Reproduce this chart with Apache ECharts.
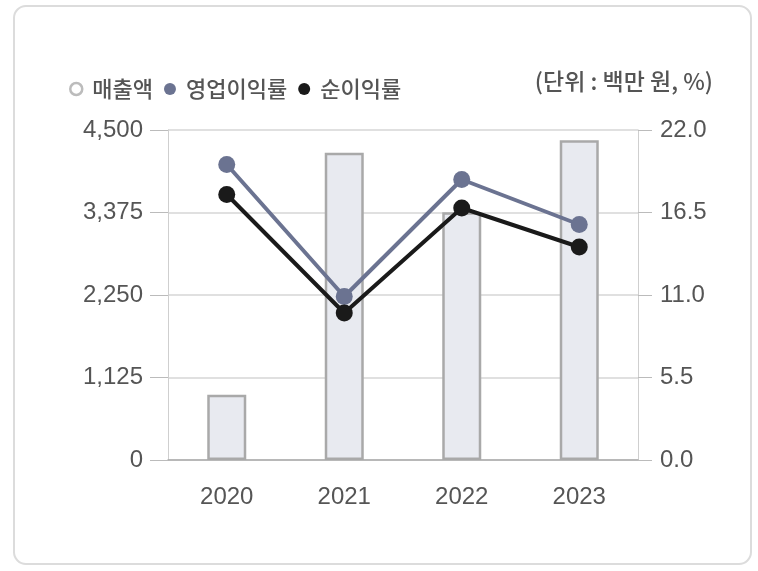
<!DOCTYPE html>
<html>
<head>
<meta charset="utf-8">
<script src="https://cdn.jsdelivr.net/npm/echarts@6/dist/echarts.min.js"></script>
<style>html,body{margin:0;padding:0;background:#fff}#c{width:758px;height:571px}</style>
</head>
<body>
<div id="c"></div>
<script>
const categories = ['2020', '2021', '2022', '2023'];
const revenue = [890, 4190, 3380, 4360];
const operatingMargin = [19.7, 10.9, 18.7, 15.7];
const netMargin = [17.7, 9.8, 16.8, 14.2];
const leftTicks = [0, 1125, 2250, 3375, 4500];
const rightTicks = [0, 5.5, 11, 16.5, 22];

const FONT = '"Liberation Sans", "Noto Sans CJK KR", sans-serif';
const KFONT = '"Noto Sans CJK KR", sans-serif';
const chart = echarts.init(document.getElementById('c'));
chart.setOption({
  animation: false,
  backgroundColor: '#fff',
  graphic: [
    { type: 'rect', z: -10, shape: { x: 14, y: 6, width: 737, height: 558, r: 12 },
      style: { fill: '#fff', stroke: '#dcdcdc', lineWidth: 2 } },
    { type: 'text', right: 45, top: 70,
      style: { text: '(단위 : 백만 원, %)', font: '500 23px ' + KFONT, fill: '#555' } }
  ],
  legend: {
    left: 64, top: 73, itemWidth: 22, itemHeight: 12, itemGap: 11,
    textStyle: { fontFamily: KFONT, fontSize: 22, fontWeight: 500, color: '#555' },
    data: [
      { name: '매출액', icon: 'circle', itemStyle: { color: '#fff', borderColor: '#bcbcbc', borderWidth: 2.5 } },
      { name: '영업이익률', icon: 'circle', itemStyle: { color: '#6b7391' } },
      { name: '순이익률', icon: 'circle', itemStyle: { color: '#1a1a1a' } }
    ]
  },
  grid: { left: 168, right: 120, top: 130, bottom: 111 },
  xAxis: {
    type: 'category', data: categories,
    axisLine: { lineStyle: { color: '#aaa', width: 1.5 } },
    axisTick: { show: false },
    axisLabel: { fontFamily: FONT, fontSize: 24, color: '#555', margin: 25 }
  },
  yAxis: [
    { type: 'value', min: 0, max: 4500, interval: 1125,
      axisLine: { show: true, lineStyle: { color: '#cfcfcf' } },
      axisTick: { show: true, length: 18, lineStyle: { color: '#bbb' } },
      splitLine: { lineStyle: { color: '#d6d6d6', width: 1.5 } },
      axisLabel: { fontFamily: FONT, fontSize: 24, color: '#555', margin: 25,
        formatter: v => leftTicks.includes(v) ? v.toLocaleString('en-US') : '' } },
    { type: 'value', min: 0, max: 22, interval: 5.5,
      axisLine: { show: true, lineStyle: { color: '#cfcfcf' } },
      axisTick: { show: true, length: 14, lineStyle: { color: '#bbb' } },
      splitLine: { show: false },
      axisLabel: { fontFamily: FONT, fontSize: 24, color: '#555', margin: 22,
        formatter: v => rightTicks.includes(v) ? v.toFixed(1) : '' } }
  ],
  series: [
    { name: '매출액', type: 'bar', data: revenue, barWidth: 39,
      itemStyle: { color: '#e8eaf0', borderColor: '#a9a9a9', borderWidth: 2.5 } },
    { name: '영업이익률', type: 'line', yAxisIndex: 1, data: operatingMargin,
      symbol: 'circle', symbolSize: 17, z: 3,
      lineStyle: { color: '#6b7391', width: 4 }, itemStyle: { color: '#6b7391' } },
    { name: '순이익률', type: 'line', yAxisIndex: 1, data: netMargin,
      symbol: 'circle', symbolSize: 17, z: 4,
      lineStyle: { color: '#1a1a1a', width: 4 }, itemStyle: { color: '#1a1a1a' } }
  ]
});
</script>
</body>
</html>
